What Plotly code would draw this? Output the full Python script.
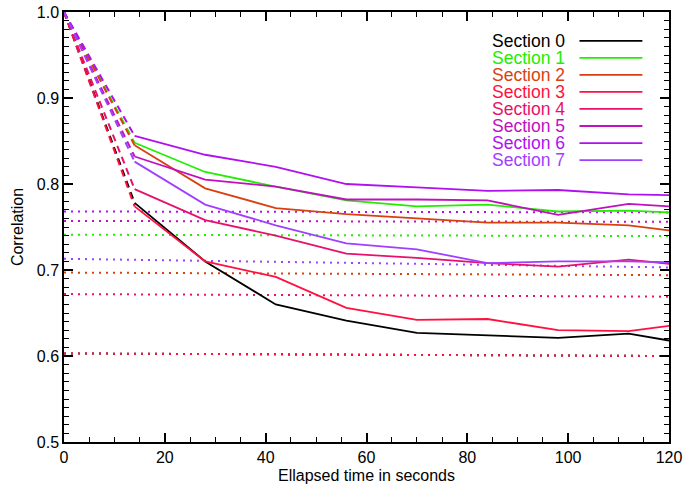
import plotly.graph_objects as go

# ---------------- data ----------------
sections = ["Section 0", "Section 1", "Section 2", "Section 3",
            "Section 4", "Section 5", "Section 6", "Section 7"]
colors = ["#000000", "#22ee00", "#d94010", "#ff1040",
          "#e8106a", "#c010c0", "#b010f0", "#a040ff"]

t_start = [0, 14]
start_value = 1.0
times = [14, 28, 42, 56, 70, 84, 98, 112, 120]

corr_s0 = [0.778, 0.710, 0.660, 0.641, 0.627, 0.624, 0.621, 0.626, 0.618]
corr_s1 = [0.848, 0.814, 0.797, 0.781, 0.774, 0.776, 0.768, 0.769, 0.767]
corr_s2 = [0.845, 0.795, 0.772, 0.765, 0.760, 0.755, 0.755, 0.752, 0.746]
corr_s3 = [0.774, 0.710, 0.692, 0.656, 0.642, 0.643, 0.630, 0.629, 0.635]
corr_s4 = [0.794, 0.758, 0.740, 0.719, 0.714, 0.708, 0.704, 0.712, 0.707]
corr_s5 = [0.832, 0.805, 0.797, 0.782, 0.782, 0.781, 0.764, 0.777, 0.774]
corr_s6 = [0.856, 0.834, 0.820, 0.800, 0.796, 0.792, 0.793, 0.788, 0.787]
corr_s7 = [0.826, 0.776, 0.752, 0.731, 0.724, 0.708, 0.710, 0.710, 0.709]
corr_all = [corr_s0, corr_s1, corr_s2, corr_s3, corr_s4, corr_s5, corr_s6, corr_s7]

# reference (dotted) levels: value at t=0 and at t=120
ref_t = [0, 120]
ref_s0 = [0.603, 0.600]
ref_s1 = [0.741, 0.7395]
ref_s2 = [0.697, 0.694]
ref_s3 = [0.603, 0.600]
ref_s4 = [0.672, 0.669]
ref_s5 = [0.757, 0.756]
ref_s6 = [0.768, 0.767]
ref_s7 = [0.713, 0.703]
ref_all = [ref_s0, ref_s1, ref_s2, ref_s3, ref_s4, ref_s5, ref_s6, ref_s7]

FONT = "Liberation Sans, Arial, Helvetica, sans-serif"

fig = go.Figure()

# dotted reference lines
for name, col, ref in zip(sections, colors, ref_all):
    fig.add_trace(go.Scatter(x=ref_t, y=ref, mode="lines",
                             line=dict(color=col, width=2, dash="2px,5px"),
                             showlegend=False, hoverinfo="skip"))

# dashed initial drop
for name, col, vals in zip(sections, colors, corr_all):
    fig.add_trace(go.Scatter(x=t_start, y=[start_value, vals[0]], mode="lines",
                             line=dict(color=col, width=2, dash="7px,5px"),
                             showlegend=False, hoverinfo="skip"))

# solid lines
for name, col, vals in zip(sections, colors, corr_all):
    fig.add_trace(go.Scatter(x=times, y=vals, mode="lines", name=name,
                             line=dict(color=col, width=1.8),
                             showlegend=False))

# custom legend: coloured text on the left, line sample on the right
leg_top = 0.933
leg_step = 17.04 / 430
for i, (name, col) in enumerate(zip(sections, colors)):
    yy = leg_top - i * leg_step
    fig.add_annotation(xref="paper", yref="paper", x=0.832, y=yy,
                       text=name, showarrow=False, xanchor="right",
                       yanchor="middle", height=16, valign="middle",
                       font=dict(family=FONT, size=17.5, color=col))
    fig.add_shape(type="line", xref="paper", yref="paper",
                  x0=0.852, x1=0.956, y0=yy, y1=yy,
                  line=dict(color=col, width=1.8))

axis_common = dict(
    showgrid=False, zeroline=False, showline=True, linecolor="black",
    linewidth=1.5, mirror="ticks", ticks="inside", tickcolor="black",
    tickwidth=1.5, tickfont=dict(family=FONT, size=16, color="black"),
    automargin=False,
)

fig.update_xaxes(range=[0, 120], tickmode="linear", tick0=0, dtick=20, ticklen=9,
                 minor=dict(dtick=5, ticks="inside", ticklen=5,
                            tickcolor="black", tickwidth=1.3),
                 title=dict(text="Ellapsed time in seconds",
                            font=dict(family=FONT, size=16, color="black"),
                            standoff=5),
                 **axis_common)
fig.update_yaxes(range=[0.5, 1.0], tickmode="linear", tick0=0.5, dtick=0.1, ticklen=9,
                 tickformat=".1f",
                 minor=dict(dtick=0.01, ticks="inside", ticklen=5,
                            tickcolor="black", tickwidth=1.3),
                 title=dict(text="Correlation",
                            font=dict(family=FONT, size=16, color="black"),
                            standoff=9),
                 **axis_common)

fig.update_layout(
    width=684, height=488,
    margin=dict(l=64, r=15, t=12, b=46),
    paper_bgcolor="white", plot_bgcolor="white",
    showlegend=False,
    font=dict(family=FONT, size=16, color="black"),
)

fig.write_html("out.html",
               config={"displayModeBar": False},
               post_script="document.body.style.margin='0';"
                           "document.body.style.overflow='hidden';")
